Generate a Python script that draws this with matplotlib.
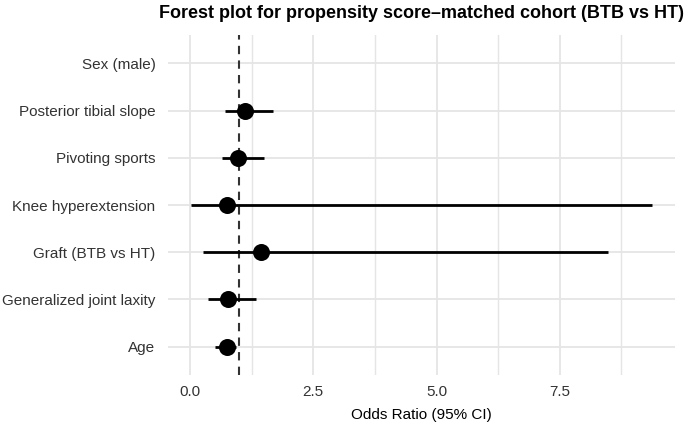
import numpy as np
import matplotlib
matplotlib.use("Agg")
import matplotlib.pyplot as plt
from matplotlib.ticker import MultipleLocator, FormatStrFormatter

plt.rcParams['font.family'] = ['Liberation Sans', 'DejaVu Sans']

# Data (bottom to top)
variables = ["Age", "Generalized joint laxity", "Graft (BTB vs HT)",
             "Knee hyperextension", "Pivoting sports", "Posterior tibial slope",
             "Sex (male)"]
odds_ratio = [0.74, 0.76, 1.44, 0.75, 0.98, 1.12, np.nan]
ci_lower = [0.51, 0.37, 0.27, 0.02, 0.65, 0.71, np.nan]
ci_upper = [0.94, 1.33, 8.48, 9.37, 1.51, 1.69, np.nan]

W, H = 685, 428
fig = plt.figure(figsize=(W / 100, H / 100), dpi=100)
ax = fig.add_axes([168 / W, 1 - 375 / H, (675 - 168) / W, (375 - 35) / H])

y = np.arange(1, len(variables) + 1)

ax.axvline(1, color="#333333", linestyle=(0, (4, 3)), linewidth=1.5, zorder=2)
ax.hlines(y, ci_lower, ci_upper, color="black", linewidth=2.0, zorder=3)
ax.scatter(odds_ratio, y, s=150, color="black", zorder=4, linewidths=0)

lo = np.nanmin(ci_lower)
hi = np.nanmax(ci_upper)
pad = 0.05 * (hi - lo)
ax.set_xlim(lo - pad, hi + pad)
ax.set_ylim(0.4, len(variables) + 0.6)

ax.xaxis.set_major_locator(MultipleLocator(2.5))
ax.xaxis.set_minor_locator(MultipleLocator(1.25))
ax.xaxis.set_major_formatter(FormatStrFormatter("%.1f"))
ax.set_yticks(y)
ax.set_yticklabels(variables)

ax.grid(True, which="major", axis="both", color="#E5E5E5", linewidth=1.3, zorder=0)
ax.grid(True, which="minor", axis="x", color="#E5E5E5", linewidth=1.0, zorder=0)
ax.set_axisbelow(True)
for s in ax.spines.values():
    s.set_visible(False)
ax.tick_params(which="both", length=0, labelsize=11, labelcolor="#333333")
ax.tick_params(axis="x", pad=7)
ax.tick_params(axis="y", pad=9)

ax.set_xlabel("Odds Ratio (95% CI)", fontsize=11, color="black", labelpad=7)
ax.set_title("Forest plot for propensity score\u2013matched cohort (BTB vs HT)",
             fontsize=13, fontweight="bold", pad=12)

fig.savefig("out.png", dpi=100, facecolor="white")
